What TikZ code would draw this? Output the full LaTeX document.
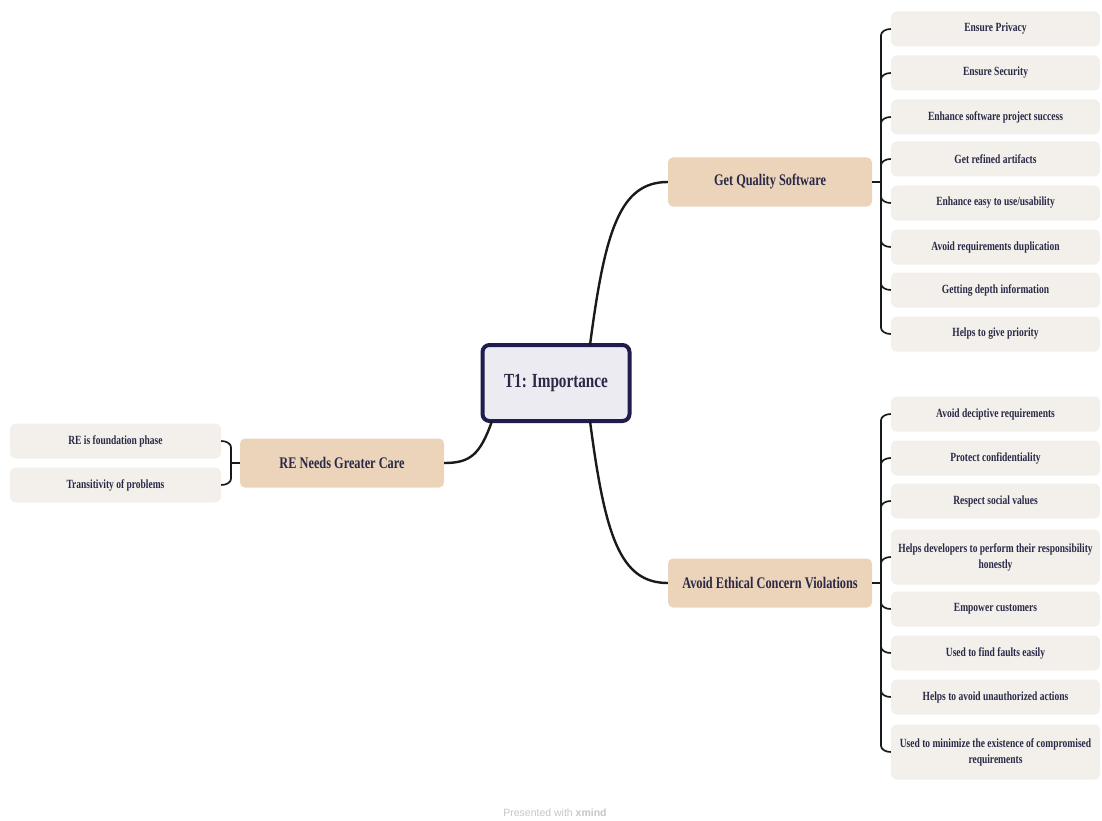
\documentclass[tikz,border=0pt]{standalone}
\usepackage{fontspec}
\setmainfont{Liberation Serif}[FakeStretch=0.76]
\newfontfamily\footfont{Liberation Sans}
\usetikzlibrary{calc}
\definecolor{inkcol}{HTML}{2A2946}
\definecolor{rootedge}{HTML}{1E1D4E}
\definecolor{rootfill}{HTML}{ECEBF1}
\definecolor{topicfill}{HTML}{ECD4BB}
\definecolor{leaffill}{HTML}{F3F0EC}
\definecolor{linecol}{HTML}{1A1A1A}
\tikzset{
  x=1pt, y=-1pt,
  rootbox/.style={draw=rootedge, line width=4pt, fill=rootfill, rounded corners=7pt,
    minimum width=147pt, minimum height=76pt, inner sep=0pt, text=inkcol,
    font=\fontsize{20}{23}\selectfont\bfseries},
  topicbox/.style={fill=topicfill, rounded corners=5pt, minimum width=204pt,
    minimum height=49pt, inner sep=0pt, text=inkcol,
    font=\fontsize{16.2}{19}\selectfont\bfseries},
  leafbox/.style={fill=leaffill, rounded corners=6pt, minimum width=209pt,
    minimum height=35pt, inner sep=0pt, text=inkcol, align=center,
    font=\fontsize{12.5}{16}\selectfont\bfseries},
  tallleaf/.style={leafbox, minimum height=55pt},
  branch/.style={draw=linecol, line width=2.4pt},
  brace/.style={draw=linecol, line width=1.7pt},
}
\begin{document}
\begin{tikzpicture}
\useasboundingbox[fill=white] (0,0) rectangle (1102,821);

% central topic and main branches
\node[rootbox] (root) at (556,383) {T1: Importance};
\node[topicbox] (qual) at (770,182) {Get Quality Software};
\node[topicbox] (care) at (342,463) {RE Needs Greater Care};
\node[topicbox] (ethic) at (770,583) {Avoid Ethical Concern Violations};

\draw[branch] (590,345) .. controls (605,230) and (620,182) .. (qual.west);
\draw[branch] (590,421) .. controls (605,536) and (620,583) .. (ethic.west);
\draw[branch] (492,421) .. controls (480,455) and (470,463) .. (care.east);

% quality subtopics
\node[leafbox] (q1) at (995.5,29) {Ensure Privacy};
\node[leafbox] (q2) at (995.5,73) {Ensure Security};
\node[leafbox] (q3) at (995.5,117) {Enhance software project success};
\node[leafbox] (q4) at (995.5,159) {Get refined artifacts};
\node[leafbox] (q5) at (995.5,203) {Enhance easy to use/usability};
\node[leafbox] (q6) at (995.5,247) {Avoid requirements duplication};
\node[leafbox] (q7) at (995.5,290) {Getting depth information};
\node[leafbox] (q8) at (995.5,334) {Helps to give priority};

% ethics subtopics
\node[leafbox] (e1) at (995.5,414) {Avoid deciptive requirements};
\node[leafbox] (e2) at (995.5,458) {Protect confidentiality};
\node[leafbox] (e3) at (995.5,501) {Respect social values};
\node[tallleaf] (e4) at (995.5,557) {Helps developers to perform their responsibility\\honestly};
\node[leafbox] (e5) at (995.5,609) {Empower customers};
\node[leafbox] (e6) at (995.5,653) {Used to find faults easily};
\node[leafbox] (e7) at (995.5,697) {Helps to avoid unauthorized actions};
\node[tallleaf] (e8) at (995.5,752) {Used to minimize the existence of compromised\\requirements};

% care subtopics
\node[leafbox, minimum width=211pt] (c1) at (115.5,441) {RE is foundation phase};
\node[leafbox, minimum width=211pt] (c2) at (115.5,485) {Transitivity of problems};

% right-hand braces
\draw[brace] (qual.east) -- ++(9,0);
\draw[brace] ($(q1.west)+(-10,7)$) -- ($(q8.west)+(-10,-7)$);
\foreach \n in {q1,q2,q3,q4}
  \draw[brace] ($(\n.west)+(-10,7)$) to[out=90,in=180] (\n.west);
\foreach \n in {q5,q6,q7,q8}
  \draw[brace] ($(\n.west)+(-10,-7)$) to[out=-90,in=180] (\n.west);

\draw[brace] (ethic.east) -- ++(9,0);
\draw[brace] ($(e1.west)+(-10,7)$) -- ($(e8.west)+(-10,-7)$);
\foreach \n in {e1,e2,e3,e4}
  \draw[brace] ($(\n.west)+(-10,7)$) to[out=90,in=180] (\n.west);
\foreach \n in {e5,e6,e7,e8}
  \draw[brace] ($(\n.west)+(-10,-7)$) to[out=-90,in=180] (\n.west);

% left-hand brace
\draw[brace] (care.west) -- ++(-9,0);
\draw[brace] ($(c1.east)+(10,7)$) -- ($(c2.east)+(10,-7)$);
\draw[brace] ($(c1.east)+(10,7)$) to[out=90,in=0] (c1.east);
\draw[brace] ($(c2.east)+(10,-7)$) to[out=-90,in=0] (c2.east);

% footer
\node[text=black!22, font=\footfont\fontsize{10.5}{12}\selectfont] (foot) at (555,813)
  {Presented with \textbf{xmind}};
\end{tikzpicture}
\end{document}
